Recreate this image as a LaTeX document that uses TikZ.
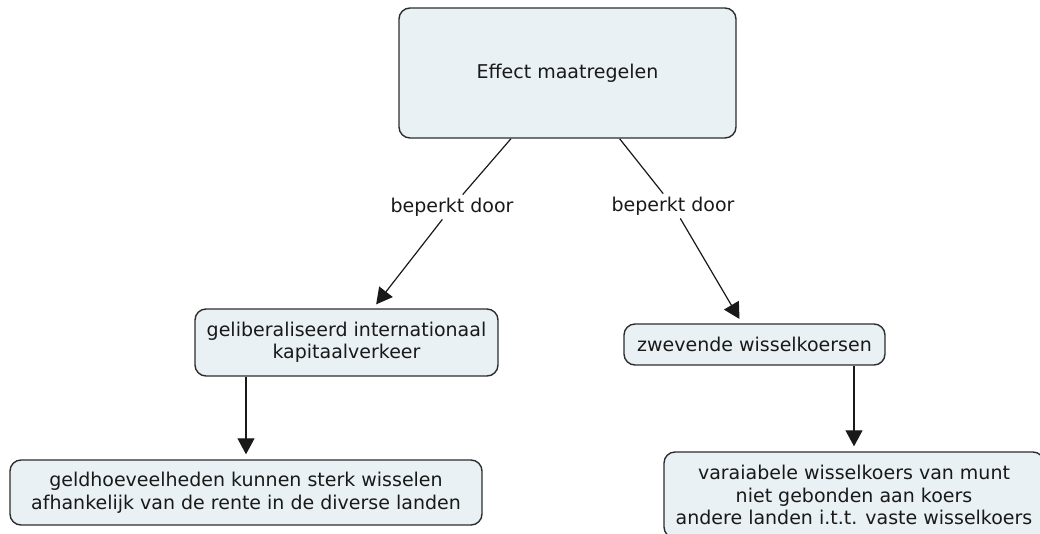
\documentclass[tikz,border=0pt]{standalone}
\usepackage{fontspec}
\setmainfont{DejaVu Sans}
\usetikzlibrary{arrows.meta}
\definecolor{boxfill}{RGB}{233,241,245}
\definecolor{boxline}{RGB}{45,45,45}
\definecolor{ink}{RGB}{25,25,25}
\begin{document}
\begin{tikzpicture}[x=1pt,y=-1pt,
  concept/.style={draw=boxline,line width=1.4pt,fill=boxfill,rounded corners=11pt,
    align=center,text=ink,font=\fontsize{19}{22.5}\selectfont,inner sep=4pt},
  linklabel/.style={text=ink,font=\fontsize{19}{22.5}\selectfont,inner sep=3pt},
  conn/.style={draw=ink,line width=1.2pt},
  arr/.style={conn,-{Triangle[length=16pt,width=17pt]},shorten >=5pt}]
\useasboundingbox (0,0) rectangle (1040,533);
\clip (0,0) rectangle (1040,533);

% concepts
\node[concept,minimum width=337pt,minimum height=130pt] (top) at (567.5,73) {Effect maatregelen};
\node[concept,minimum width=303pt,minimum height=67pt] (lm) at (346.5,342.5)
  {geliberaliseerd internationaal\\kapitaalverkeer};
\node[concept,minimum width=261pt,minimum height=41pt] (rm) at (754.5,344.5) {zwevende wisselkoersen};
\node[concept,minimum width=472pt,minimum height=65pt] (bl) at (246,492.5)
  {geldhoeveelheden kunnen sterk wisselen\\afhankelijk van de rente in de diverse landen};
\node[concept,minimum width=380pt,minimum height=86pt] (br) at (854,495)
  {varaiabele wisselkoers van munt\\niet gebonden aan koers\\andere landen i.t.t. vaste wisselkoers};

% linking phrases
\node[linklabel] (l1) at (452,207) {beperkt door};
\node[linklabel] (l2) at (673,206) {beperkt door};

% connections
\draw[conn] (top) -- (l1);
\draw[arr] (l1) -- (lm);
\draw[conn] (top) -- (l2);
\draw[arr] (l2) -- (rm);
\draw[arr] (lm.south -| bl.north) -- (bl.north);
\draw[arr] (rm.south -| br.north) -- (br.north);
\end{tikzpicture}
\end{document}
